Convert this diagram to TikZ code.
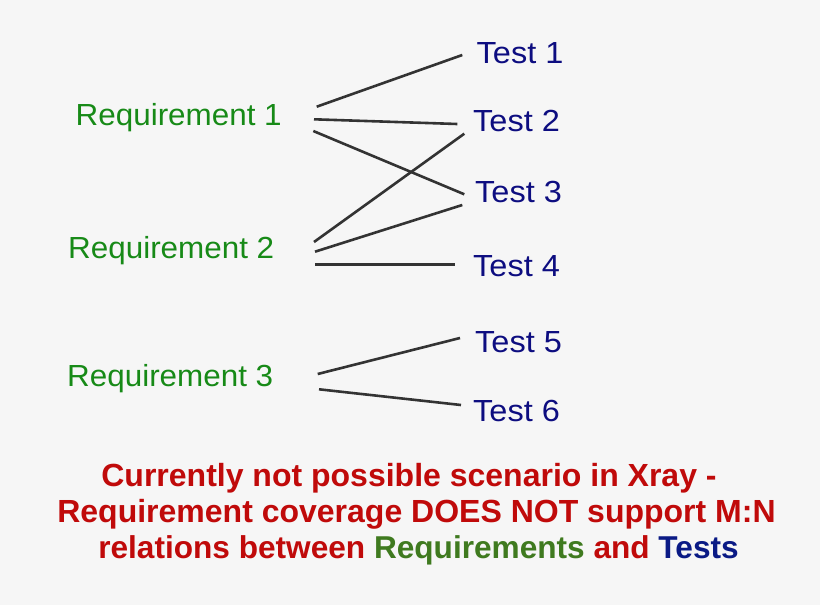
\documentclass[tikz,border=0pt]{standalone}
\usepackage{fontspec}
\setmainfont{Liberation Sans}
\newfontfamily\testfont[FakeStretch=1.065]{Liberation Sans}
\newfontfamily\reqfont[FakeStretch=1.03]{Liberation Sans}
\definecolor{bg}{HTML}{F6F6F6}
\definecolor{reqgreen}{HTML}{178A17}
\definecolor{testblue}{HTML}{0D0D80}
\definecolor{warnred}{HTML}{C00A0A}
\definecolor{darkgreen}{HTML}{3F7A1F}
\definecolor{darkblue}{HTML}{0A1A85}
\definecolor{linegray}{HTML}{333333}
\begin{document}
\begin{tikzpicture}[x=1pt,y=-1pt,
  req/.style={anchor=base west,inner sep=0pt,text=reqgreen,font=\reqfont\fontsize{30.5}{34}\selectfont},
  tst/.style={anchor=base west,inner sep=0pt,text=testblue,font=\testfont\fontsize{30.5}{34}\selectfont},
  link/.style={draw=linegray,line width=2.6pt},
  note/.style={inner sep=0pt,align=center,text=warnred,font=\fontsize{32}{36}\selectfont\bfseries}]
\fill[bg] (0,0) rectangle (820,605);
\useasboundingbox (0,0) rectangle (820,605);
% requirements
\node[req] (r1) at (75.5,125.5) {Requirement 1};
\node[req] (r2) at (68,258) {Requirement 2};
\node[req] (r3) at (67,386) {Requirement 3};
% tests
\node[tst] (t1) at (476.5,63.5) {Test 1};
\node[tst] (t2) at (473,131) {Test 2};
\node[tst] (t3) at (475,202.3) {Test 3};
\node[tst] (t4) at (473,276) {Test 4};
\node[tst] (t5) at (475,352) {Test 5};
\node[tst] (t6) at (473,421.7) {Test 6};
% connector end points
\coordinate (r1a) at (316.7,106.7);
\coordinate (r1b) at (314,119.3);
\coordinate (r1c) at (313.3,131);
\coordinate (r2a) at (314,242);
\coordinate (r2b) at (315,251.7);
\coordinate (r2c) at (315,264.3);
\coordinate (r3a) at (317.7,374);
\coordinate (r3b) at (319,389.3);
\coordinate (t1a) at (462.3,55);
\coordinate (t2a) at (457.3,124);
\coordinate (t2b) at (464.3,133.7);
\coordinate (t3a) at (464.3,194.3);
\coordinate (t3b) at (462.3,205);
\coordinate (t4a) at (455,264.3);
\coordinate (t5a) at (460,338);
\coordinate (t6a) at (461,405);
% connectors
\draw[link] (r1a) -- (t1a);
\draw[link] (r1b) -- (t2a);
\draw[link] (r1c) -- (t3a);
\draw[link] (r2a) -- (t2b);
\draw[link] (r2b) -- (t3b);
\draw[link] (r2c) -- (t4a);
\draw[link] (r3a) -- (t5a);
\draw[link] (r3b) -- (t6a);
% note
\node[note,anchor=base] (n1) at (409,486) {Currently not possible scenario in Xray -};
\node[note,anchor=base] (n2) at (416.5,522.5) {Requirement coverage DOES NOT support M:N};
\node[note,anchor=base] (n3) at (418.5,558) {\fontsize{31.6}{36}\selectfont relations between \textcolor{darkgreen}{Requirements} and \textcolor{darkblue}{Tests}};
\end{tikzpicture}
\end{document}
